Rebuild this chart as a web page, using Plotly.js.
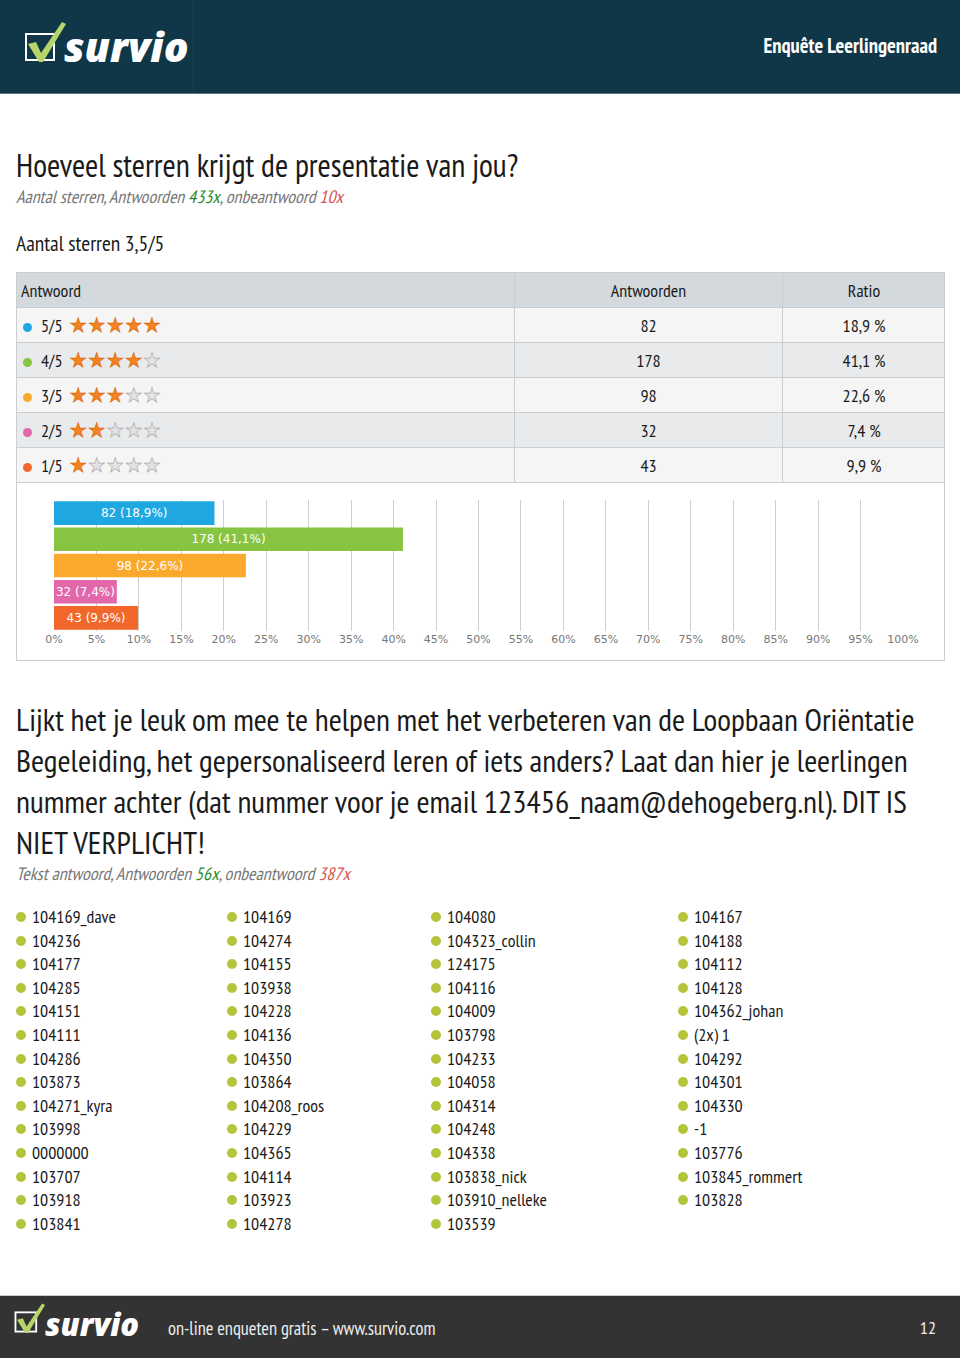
<!DOCTYPE html>
<html>
<head>
<meta charset="utf-8">
<script src="https://cdn.plot.ly/plotly-3.0.1.min.js"></script>
<style>
  body { margin: 0; width: 960px; height: 1358px; position: relative; background: #fff; overflow: hidden;
         font-family: "PT Sans Narrow", "Liberation Sans Narrow", "DejaVu Sans Condensed", "Roboto Condensed", sans-serif; color: #1a1a1a; }
  .abs { position: absolute; white-space: nowrap; }
  #header { left: 0; top: 0; width: 960px; height: 93px; background: #0f3747; border-bottom: 1px solid #5a7580; }
  #header .split { left: 193px; top: 0; width: 1px; height: 93px; background: #1b4252; }
  #footer { left: 0; top: 1295px; width: 960px; height: 63px; background: #333; border-top: 1px solid #ccc; }
  .logo-text { font-family: "Open Sans", "DejaVu Sans", sans-serif; font-weight: 800; font-style: italic; color: #fff; }
  .sub { font-style: italic; color: #777; font-size: 18px; }
  .green { color: #2c8a2c; }
  .red { color: #d9534f; }
  #tbl { left: 16px; top: 272px; width: 927px; border: 1px solid #c9ced2; border-bottom: none; }
  .row { position: relative; height: 34px; border-bottom: 1px solid #c9ced2; font-size: 18px; }
  .cell { position: absolute; top: 0; height: 34px; line-height: 35px; }
  .c2 { left: 497px; width: 267px; text-align: center; border-left: 1px solid #c9ced2; }
  .c3 { left: 765px; width: 162px; text-align: center; border-left: 1px solid #c9ced2; }
  .dot { display: inline-block; width: 9px; height: 9px; border-radius: 50%; vertical-align: middle; }
  .star { font-family: "DejaVu Sans", sans-serif; font-size: 20px; letter-spacing: 0.5px; }
  .on { color: #f58220; -webkit-text-stroke: 0.6px #d96a10; }
  .off { color: #e4e4e4; -webkit-text-stroke: 0.6px #aaa; }
  #chartbox { left: 16px; top: 483px; width: 927px; height: 177px; border: 1px solid #c9ced2; border-top: none; background: #fff; }
  #chart { position: absolute; left: 0; top: 0; width: 927px; height: 177px; }
  .q2 { left: 16px; top: 699px; font-size: 31.7px; line-height: 41px; white-space: normal; width: 905px; }
  .li { font-size: 18px; height: 23.6px; line-height: 23.6px; }
  .li .b { display: inline-block; width: 10px; height: 10px; border-radius: 50%; background: #b4c43b; margin-right: 6px; vertical-align: 1px; }
</style>
</head>
<body>
<div id="header" class="abs">
  <div class="abs split"></div>
  <svg class="abs" style="left:24px;top:20px" width="46" height="46" viewBox="0 0 46 46">
    <rect x="2" y="14" width="28" height="26" fill="none" stroke="#fff" stroke-width="2"/>
    <path d="M4 24 L12 22 L17 33 L38 2 L42 4 L19 42 L15 42 Z" fill="#b6d46a"/>
  </svg>
  <div class="abs logo-text" style="left:64px;top:20px;font-size:41px;line-height:52px;">survio</div>
  <div class="abs" style="right:23px;top:32px;font-size:20.5px;font-weight:bold;color:#fff;">Enquête Leerlingenraad</div>
</div>

<div class="abs" style="left:16px;top:145px;font-size:32px;line-height:40px;">Hoeveel sterren krijgt de presentatie van jou?</div>
<div class="abs sub" style="left:16px;top:185px;">Aantal sterren, Antwoorden <span class="green">433x</span>, onbeantwoord <span class="red">10x</span></div>
<div class="abs" style="left:16px;top:229px;font-size:21.5px;">Aantal sterren 3,5/5</div>

<div id="tbl" class="abs"></div>
<div id="chartbox" class="abs"><div id="chart"></div></div>

<div class="abs q2">Lijkt het je leuk om mee te helpen met het verbeteren van de Loopbaan Oriëntatie Begeleiding, het gepersonaliseerd leren of iets anders? Laat dan hier je leerlingen nummer achter (dat nummer voor je email 123456_naam@dehogeberg.nl). DIT IS NIET VERPLICHT!</div>
<div class="abs sub" style="left:16px;top:862px;">Tekst antwoord, Antwoorden <span class="green">56x</span>, onbeantwoord <span class="red">387x</span></div>

<div id="lists"></div>

<div id="footer" class="abs">
  <svg class="abs" style="left:14px;top:6px" width="34" height="34" viewBox="0 0 46 46">
    <rect x="2" y="14" width="28" height="26" fill="none" stroke="#fff" stroke-width="2.5"/>
    <path d="M4 24 L12 22 L17 33 L38 2 L42 4 L19 42 L15 42 Z" fill="#b6d46a"/>
  </svg>
  <div class="abs logo-text" style="left:45px;top:8px;font-size:31px;line-height:40px;">survio</div>
  <div class="abs" style="left:168px;top:20px;font-size:18.4px;color:#eee;">on-line enqueten gratis – www.survio.com</div>
  <div class="abs" style="right:24px;top:20px;font-size:18px;color:#eee;">12</div>
</div>

<script>
// star-rating question
const answers = ["5/5", "4/5", "3/5", "2/5", "1/5"];
const stars = [5, 4, 3, 2, 1];
const counts = [82, 178, 98, 32, 43];
const ratios = [18.9, 41.1, 22.6, 7.4, 9.9];
const colors = ["#1ea7e1", "#86c441", "#fba92c", "#e367ab", "#f2682a"];
const rowBg = ["#f5f5f5", "#e8eaec", "#f5f5f5", "#e8eaec", "#f5f5f5"];

// text answers, per column
const listCol1 = ["104169_dave", "104236", "104177", "104285", "104151", "104111", "104286", "103873", "104271_kyra", "103998", "0000000", "103707", "103918", "103841"];
const listCol2 = ["104169", "104274", "104155", "103938", "104228", "104136", "104350", "103864", "104208_roos", "104229", "104365", "104114", "103923", "104278"];
const listCol3 = ["104080", "104323_collin", "124175", "104116", "104009", "103798", "104233", "104058", "104314", "104248", "104338", "103838_nick", "103910_nelleke", "103539"];
const listCol4 = ["104167", "104188", "104112", "104128", "104362_johan", "(2x) 1", "104292", "104301", "104330", "-1", "103776", "103845_rommert", "103828"];

const fmt = (v) => v.toFixed(1).replace(".", ",");

// table
const tbl = document.getElementById("tbl");
let html = '<div class="row" style="background:#d4d9dd"><div class="cell" style="left:4px">Antwoord</div>' +
  '<div class="cell c2">Antwoorden</div><div class="cell c3">Ratio</div></div>';
answers.forEach((a, i) => {
  let s = "";
  for (let k = 0; k < 5; k++) s += `<span class="${k < stars[i] ? "on" : "off"}">★</span>`;
  html += `<div class="row" style="background:${rowBg[i]}">` +
    `<div class="cell" style="left:6px"><span class="dot" style="background:${colors[i]}"></span>` +
    `<span style="margin-left:9px">${a}</span> <span class="star" style="margin-left:3px">${s}</span></div>` +
    `<div class="cell c2">${counts[i]}</div><div class="cell c3">${fmt(ratios[i])} %</div></div>`;
});
tbl.innerHTML = html;

// lists
const lists = document.getElementById("lists");
[[listCol1, 16], [listCol2, 227], [listCol3, 431], [listCol4, 678]].forEach(([col, x]) => {
  const d = document.createElement("div");
  d.className = "abs";
  d.style.left = x + "px";
  d.style.top = "905px";
  d.innerHTML = col.map((t) => `<div class="li"><span class="b"></span>${t}</div>`).join("");
  lists.appendChild(d);
});

// bar chart
const trace = {
  type: "bar",
  orientation: "h",
  y: answers,
  x: ratios,
  marker: { color: colors },
  text: answers.map((a, i) => `${counts[i]} (${fmt(ratios[i])}%)`),
  textposition: "inside",
  insidetextanchor: "middle",
  constraintext: "none",
  textfont: { color: "#fff", size: 12, family: "DejaVu Sans, sans-serif" },
  hoverinfo: "none",
};

const layout = {
  width: 927,
  height: 177,
  margin: { l: 37, r: 41, t: 17, b: 29 },
  paper_bgcolor: "#fff",
  plot_bgcolor: "#fff",
  bargap: 0.1,
  showlegend: false,
  xaxis: {
    range: [0, 100],
    dtick: 5,
    ticksuffix: "%",
    showgrid: true,
    gridcolor: "#cfcfcf",
    gridwidth: 1,
    zeroline: false,
    showline: false,
    ticks: "",
    tickfont: { color: "#777", size: 11, family: "DejaVu Sans, sans-serif" },
    fixedrange: true,
  },
  yaxis: {
    type: "category",
    autorange: "reversed",
    showticklabels: false,
    showgrid: false,
    zeroline: false,
    fixedrange: true,
  },
};

Plotly.newPlot("chart", [trace], layout, { displayModeBar: false, staticPlot: true });
</script>
</body>
</html>
